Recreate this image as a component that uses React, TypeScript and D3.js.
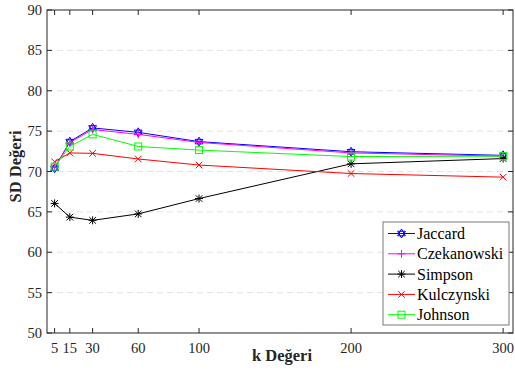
import React from "react";
import * as d3 from "d3";

const kValues = [5, 15, 30, 60, 100, 200, 300];
const jaccard = [70.4, 73.7, 75.4, 74.85, 73.7, 72.45, 72.0];
const czekanowski = [70.5, 73.6, 75.2, 74.6, 73.6, 72.3, 71.9];
const simpson = [66.05, 64.35, 63.95, 64.75, 66.65, 70.95, 71.6];
const kulczynski = [71.2, 72.3, 72.25, 71.55, 70.8, 69.75, 69.3];
const johnson = [70.6, 73.1, 74.6, 73.1, 72.65, 71.85, 71.9];
const xTicks = [5, 15, 30, 60, 100, 200, 300];
const yTicks = [50, 55, 60, 65, 70, 75, 80, 85, 90];

const series = [
  { name: "Jaccard", values: jaccard, color: "#0000ff", marker: "hexagram" },
  { name: "Czekanowski", values: czekanowski, color: "#ff00ff", marker: "plus" },
  { name: "Simpson", values: simpson, color: "#000000", marker: "asterisk" },
  { name: "Kulczynski", values: kulczynski, color: "#ff0000", marker: "x" },
  { name: "Johnson", values: johnson, color: "#00ff00", marker: "square" },
];

const W = 515;
const H = 372;
const left = 47;
const right = 513;
const top = 10;
const bottom = 333;

function Marker({ type, x, y, color }: { type: string; x: number; y: number; color: string }) {
  const s = 4;
  if (type === "plus") {
    return (
      <path d={`M${x - s},${y}H${x + s}M${x},${y - s}V${y + s}`} stroke={color} strokeWidth={1} fill="none" />
    );
  }
  if (type === "x") {
    const t = 3.3;
    return (
      <path d={`M${x - t},${y - t}L${x + t},${y + t}M${x - t},${y + t}L${x + t},${y - t}`} stroke={color} strokeWidth={1} fill="none" />
    );
  }
  if (type === "asterisk") {
    const t = 3.3;
    return (
      <path
        d={`M${x - s},${y}H${x + s}M${x},${y - s}V${y + s}M${x - t},${y - t}L${x + t},${y + t}M${x - t},${y + t}L${x + t},${y - t}`}
        stroke={color}
        strokeWidth={1}
        fill="none"
      />
    );
  }
  if (type === "square") {
    return <rect x={x - 3.5} y={y - 3.5} width={7} height={7} stroke={color} strokeWidth={1} fill="none" />;
  }
  const r = 4.5;
  const tri = (off: number) =>
    d3.range(3).map((i) => {
      const a = off + (i * 2 * Math.PI) / 3;
      return [x + r * Math.sin(a), y - r * Math.cos(a)];
    });
  const p = (pts: number[][]) => "M" + pts.map((q) => q.join(",")).join("L") + "Z";
  return <path d={p(tri(0)) + p(tri(Math.PI))} stroke={color} strokeWidth={1} fill="none" />;
}

export default function App() {
  const x = d3.scaleLinear().domain([0, 306.5]).range([left, right]);
  const y = d3.scaleLinear().domain([50, 90]).range([bottom, top]);
  const line = d3
    .line<number>()
    .x((_, i) => x(kValues[i]))
    .y((d) => y(d));
  const axisColor = "#262626";
  const font = '"Liberation Serif", Tinos, "Times New Roman", "DejaVu Serif", serif';
  const legX = 383;
  const legY = 222;
  const legW = 126;
  const legH = 103;
  const rowH = 20.3;

  return (
    <svg width={W} height={H} style={{ position: "absolute", left: 0, top: 0, background: "#fff", fontFamily: font }}>
      <rect x={0} y={0} width={W} height={H} fill="#fff" />
      {yTicks
        .filter((t) => t !== 50 && t !== 90)
        .map((t) => (
          <line key={"g" + t} x1={left} x2={right} y1={y(t)} y2={y(t)} stroke="#e3e3e3" strokeWidth={1} strokeDasharray="6,4" />
        ))}
      {series.map((s) => (
        <g key={s.name}>
          <path d={line(s.values) || ""} fill="none" stroke={s.color} strokeWidth={1} />
          {s.values.map((v, i) => (
            <Marker key={i} type={s.marker} x={x(kValues[i])} y={y(v)} color={s.color} />
          ))}
        </g>
      ))}
      <rect x={left} y={top} width={right - left} height={bottom - top} fill="none" stroke={axisColor} strokeWidth={1} />
      {xTicks.map((t) => (
        <g key={"x" + t}>
          <line x1={x(t)} x2={x(t)} y1={bottom} y2={bottom - 5} stroke={axisColor} />
          <line x1={x(t)} x2={x(t)} y1={top} y2={top + 5} stroke={axisColor} />
          <text x={x(t)} y={352.5} textAnchor="middle" fontSize={14.5} fill={axisColor} style={{ fontFamily: font }}>
            {t}
          </text>
        </g>
      ))}
      {yTicks.map((t) => (
        <g key={"y" + t}>
          <line x1={left} x2={left + 5} y1={y(t)} y2={y(t)} stroke={axisColor} />
          <line x1={right} x2={right - 5} y1={y(t)} y2={y(t)} stroke={axisColor} />
          <text x={42} y={y(t) + 5} textAnchor="end" fontSize={14.5} fill={axisColor} style={{ fontFamily: font }}>
            {t}
          </text>
        </g>
      ))}
      <text
        x={(left + right) / 2 + 2}
        y={361}
        textAnchor="middle"
        fontSize={16.5}
        fontWeight="bold"
        fill={axisColor}
        style={{ fontFamily: font }}
      >
        k Değeri
      </text>
      <text
        transform={`translate(21,${(top + bottom) / 2 - 5}) rotate(-90)`}
        textAnchor="middle"
        fontSize={16.5}
        fontWeight="bold"
        fill={axisColor}
        style={{ fontFamily: font }}
      >
        SD Değeri
      </text>
      <rect x={legX} y={legY} width={legW} height={legH} fill="#fff" stroke="#7a7a7a" strokeWidth={1} />
      {series.map((s, i) => {
        const cy = legY + 11.5 + i * rowH;
        return (
          <g key={"l" + s.name}>
            <line x1={legX + 5} x2={legX + 32} y1={cy} y2={cy} stroke={s.color} strokeWidth={1} />
            <Marker type={s.marker} x={legX + 18.5} y={cy} color={s.color} />
            <text x={legX + 34} y={cy + 5.5} fontSize={16} fill="#000" style={{ fontFamily: font }}>
              {s.name}
            </text>
          </g>
        );
      })}
    </svg>
  );
}
